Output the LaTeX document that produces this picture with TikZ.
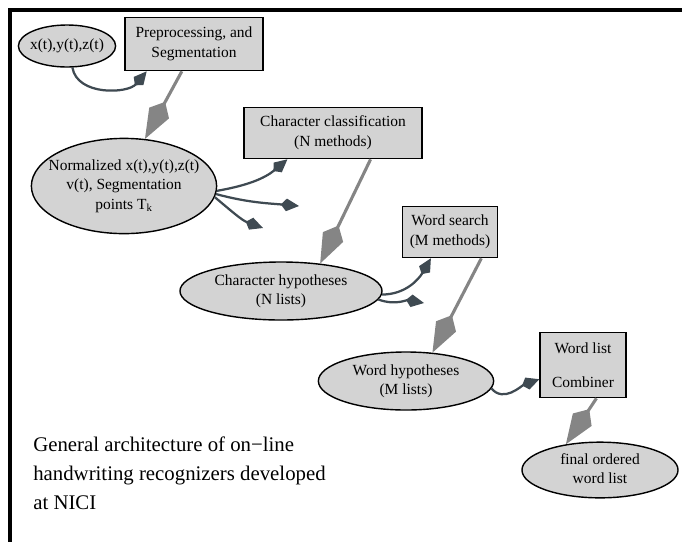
\documentclass[tikz,border=0pt]{standalone}
\usepackage{fontspec}
\setmainfont{Liberation Serif}
\usepackage{tikz}
\usetikzlibrary{shapes.geometric, arrows.meta}

\definecolor{nodefill}{HTML}{D3D3D3}
\definecolor{flowgray}{HTML}{858585}
\definecolor{linkslate}{HTML}{3F4A52}

\newcommand{\ovaltext}[1]{\makebox[0pt]{\begin{tabular}{@{}c@{}}#1\end{tabular}}}

\begin{document}
\begin{tikzpicture}[x=0.025cm, y=-0.025cm, font=\fontsize{11}{14}\selectfont]
    \useasboundingbox (0,0) rectangle (682,542);

    % Define styles for boxes and arrows
    \tikzstyle{box} = [rectangle, draw=black, line width=1pt, fill=nodefill, align=center]
    \tikzstyle{oval} = [ellipse, draw=black, line width=1pt, fill=nodefill, inner sep=0pt]
    \tikzstyle{flow} = [draw=flowgray, line width=2.2pt, -{Kite[length=30pt, width=16pt, inset=9pt]}]
    \tikzstyle{link} = [draw=linkslate, line width=1.6pt, -{Kite[length=13pt, width=9pt, inset=4pt]}]

    % frame
    \draw [line width=2.2pt] (682,10) -- (10,10) -- (10,542);

    % boxes
    \node (signal) [oval, minimum width=2.43cm, minimum height=1.05cm] at (67,46) {\ovaltext{x(t),y(t),z(t)}};
    \node (prep) [box, minimum width=3.45cm, minimum height=1.33cm] at (194,44) {Preprocessing, and\\Segmentation};
    \node (norm) [oval, minimum width=4.63cm, minimum height=2.38cm] at (124,186) {\raisebox{-4pt}{\ovaltext{Normalized x(t),y(t),z(t)\\v(t), Segmentation\\points T\textsubscript{k}}}};
    \node (chcl) [box, minimum width=4.45cm, minimum height=1.28cm] at (333,133) {Character classification\\(N methods)};
    \node (chyp) [oval, minimum width=5.05cm, minimum height=1.45cm] at (281,291) {\ovaltext{Character hypotheses\\(N lists)}};
    \node (wsearch) [box, minimum width=2.38cm, minimum height=1.28cm] at (450,232) {Word search\\(M methods)};
    \node (whyp) [oval, minimum width=4.38cm, minimum height=1.45cm] at (406,381) {\ovaltext{Word hypotheses\\(M lists)}};
    \node (comb) [box, minimum width=2.15cm, minimum height=1.63cm] at (583,365) {Word list\\[10pt]Combiner};
    \node (final) [oval, minimum width=3.9cm, minimum height=1.35cm] at (600,470) {\ovaltext{final ordered\\word list}};

    % caption
    \node (caption) [anchor=north west, align=left, inner sep=0pt, font=\fontsize{14.8}{20.5}\selectfont] at (33,437) {General architecture of on−line\\handwriting recognizers developed\\at NICI};

    % loose ends
    \coordinate (loose1) at (299,206);
    \coordinate (loose2) at (263,228);
    \coordinate (loose3) at (424,303);

    % Arrows
    \draw [link] (signal.-76) to[out=-80, in=-130] (prep.-150);
    \draw [flow] (prep.-114) -- (norm.66);
    \draw [link] (norm.-3) to[out=10, in=-140] (chcl.-150);
    \draw [link] (norm.-5) to[out=-15, in=175] (loose1);
    \draw [link] (norm.-7) to[out=-40, in=160] (loose2);
    \draw [flow] (chcl.-35) -- (chyp.35);
    \draw [link] (chyp.-2) to[out=0, in=-120] (wsearch.-126);
    \draw [link] (chyp.-5) to[out=-20, in=170] (loose3);
    \draw [flow] (wsearch.-40) -- (whyp.47);
    \draw [link] (whyp.-5) to[out=-50, in=-160] (comb.-162);
    \draw [flow] (comb.-68) -- (final.143);
\end{tikzpicture}
\end{document}
